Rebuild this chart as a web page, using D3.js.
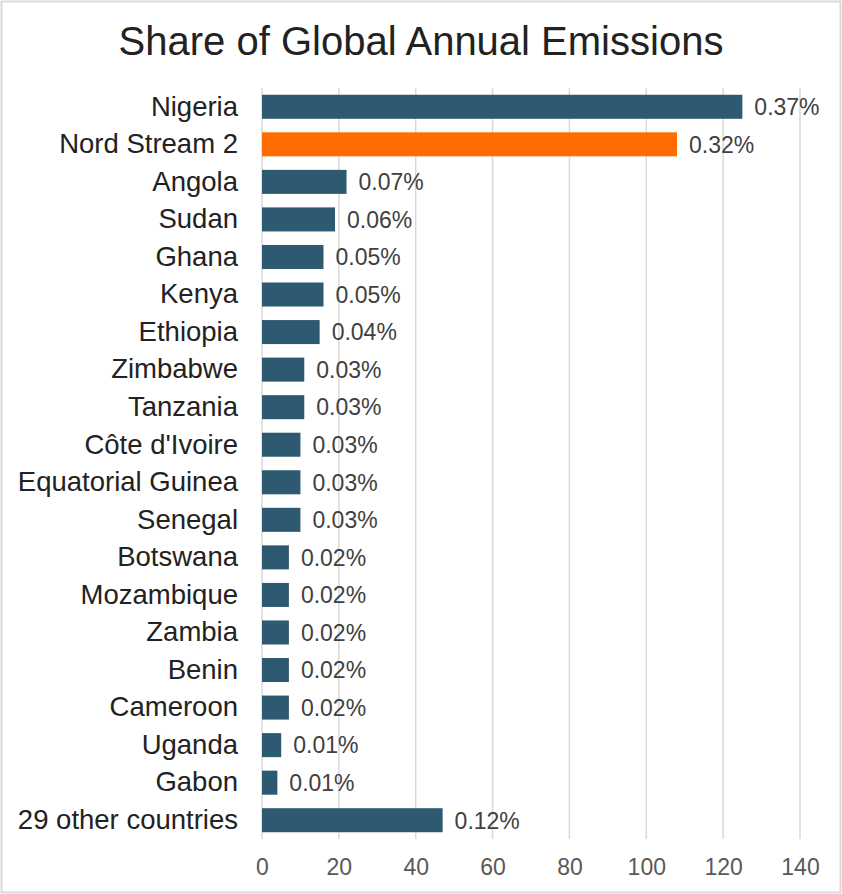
<!DOCTYPE html>
<html>
<head>
<meta charset="utf-8">
<script src="https://cdn.jsdelivr.net/npm/d3@7"></script>
<style>
  body { margin: 0; background: #fff; }
  svg text { font-family: "Liberation Sans", Arial, sans-serif; }
</style>
</head>
<body>
<div class="barChart"></div>
<script>
const WIDTH = 842;
const HEIGHT = 894;
const MARGIN = { top: 88, right: 42, bottom: 55, left: 262 };

const INNER_WIDTH = WIDTH - MARGIN.left - MARGIN.right;
const INNER_HEIGHT = HEIGHT - MARGIN.top - MARGIN.bottom;

var countries = ['Nigeria', 'Nord Stream 2', 'Angola', 'Sudan', 'Ghana', 'Kenya', 'Ethiopia',
    'Zimbabwe', 'Tanzania', "Côte d'Ivoire", 'Equatorial Guinea', 'Senegal', 'Botswana',
    'Mozambique', 'Zambia', 'Benin', 'Cameroon', 'Uganda', 'Gabon', '29 other countries'];
var emissions = [125, 108, 22, 19, 16, 16, 15, 11, 11, 10, 10, 10, 7, 7, 7, 7, 7, 5, 4, 47];
var shareLabels = ['0.37%', '0.32%', '0.07%', '0.06%', '0.05%', '0.05%', '0.04%', '0.03%', '0.03%',
    '0.03%', '0.03%', '0.03%', '0.02%', '0.02%', '0.02%', '0.02%', '0.02%', '0.01%', '0.01%', '0.12%'];
var xTicks = [0, 20, 40, 60, 80, 100, 120, 140];
var highlighted = ['Nord Stream 2'];

var xScale = d3.scaleLinear().range([0, INNER_WIDTH]).domain([0, 140]);
var yScale = d3.scaleBand().range([0, INNER_HEIGHT]).domain(countries).paddingInner(0.36).paddingOuter(0.18);

var svg = d3.select('.barChart').append('svg')
    .attr('width', WIDTH)
    .attr('height', HEIGHT);

// frame
svg.append('rect')
    .attr('x', 1.5).attr('y', 1.5)
    .attr('width', WIDTH - 3).attr('height', HEIGHT - 3)
    .attr('fill', '#fff')
    .attr('stroke', '#d9d9d9')
    .attr('stroke-width', 2);

svg.append('text')
    .attr('x', WIDTH / 2)
    .attr('y', 55)
    .attr('text-anchor', 'middle')
    .attr('font-size', 40)
    .attr('fill', '#222')
    .text('Share of Global Annual Emissions');

var g = svg.append('g')
    .attr('transform', 'translate(' + MARGIN.left + ',' + MARGIN.top + ')');

// gridlines
g.append('g').selectAll('line').data(xTicks).enter().append('line')
    .attr('x1', function (d) { return xScale(d); })
    .attr('x2', function (d) { return xScale(d); })
    .attr('y1', 0)
    .attr('y2', INNER_HEIGHT)
    .attr('stroke', '#d9d9d9')
    .attr('stroke-width', 1.5);

var xAxis = d3.axisBottom(xScale).tickValues(xTicks).tickSize(0).tickPadding(20);
var xAxisG = g.append('g').attr('transform', 'translate(0,' + INNER_HEIGHT + ')').call(xAxis);
xAxisG.select('.domain').remove();
xAxisG.selectAll('text')
    .attr('font-size', 23)
    .attr('font-family', '"Liberation Sans", Arial, sans-serif')
    .attr('fill', '#595959');

var yAxis = d3.axisLeft(yScale).tickSize(0).tickPadding(24);
var yAxisG = g.append('g').call(yAxis);
yAxisG.select('.domain').remove();
yAxisG.selectAll('text')
    .attr('font-size', 27.5)
    .attr('font-family', '"Liberation Sans", Arial, sans-serif')
    .attr('fill', '#222');

var rows = countries.map(function (c, i) {
    return { country: c, value: emissions[i], label: shareLabels[i] };
});

g.append('g').selectAll('rect').data(rows).enter().append('rect')
    .attr('x', xScale(0))
    .attr('y', function (d) { return yScale(d.country); })
    .attr('width', function (d) { return xScale(d.value) - xScale(0); })
    .attr('height', yScale.bandwidth())
    .attr('fill', function (d) {
        return highlighted.indexOf(d.country) >= 0 ? '#ff6d00' : '#2d5a70';
    });

g.append('g').selectAll('text').data(rows).enter().append('text')
    .attr('x', function (d) { return xScale(d.value) + 12; })
    .attr('y', function (d) { return yScale(d.country) + yScale.bandwidth() / 2; })
    .attr('dy', '0.36em')
    .attr('font-size', 23)
    .attr('fill', '#404040')
    .text(function (d) { return d.label; });
</script>
</body>
</html>
